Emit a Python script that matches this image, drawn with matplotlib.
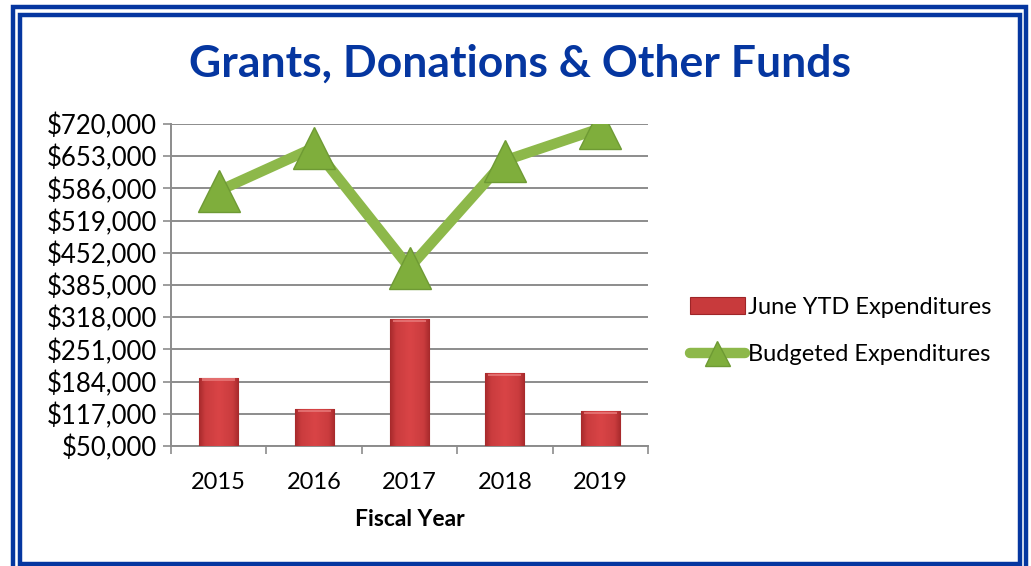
import numpy as np
import matplotlib
matplotlib.use("Agg")
import matplotlib.pyplot as plt
from matplotlib.patches import Rectangle
from matplotlib.colors import LinearSegmentedColormap
from matplotlib.ticker import FuncFormatter

years = ["2015", "2016", "2017", "2018", "2019"]
ytd_expenditures = [192000, 127000, 314000, 202000, 123000]
budgeted_expenditures = [581000, 671000, 421000, 644000, 711000]
y_ticks = [50000, 117000, 184000, 251000, 318000, 385000, 452000, 519000,
           586000, 653000, 720000]

BLUE = "#0536A0"
RED = "#C83A3C"
GREEN = "#8DB84A"
GRID = "#8C8C8C"
FONT = ["Lato", "DejaVu Sans"]

plt.rcParams["font.family"] = FONT

fig = plt.figure(figsize=(10.31, 5.66), dpi=100)
W, H = 1031, 566

# double frame around the chart
for x0, y0, x1, y1 in [(12.5, 7.5, 1026, 575), (20, 15, 1020, 564)]:
    fig.patches.append(Rectangle((x0 / W, 1 - y1 / H), (x1 - x0) / W, (y1 - y0) / H,
                                 transform=fig.transFigure, fill=False,
                                 edgecolor=BLUE, linewidth=3.2, zorder=10))

fig.text(520 / W, 1 - 64 / H, "Grants, Donations & Other Funds", ha="center",
         va="center", fontsize=32, fontweight="bold", color=BLUE)

ax = fig.add_axes([171 / W, 1 - 446 / H, (648 - 171) / W, (446 - 124) / H])
x = np.arange(len(years))
ax.set_xlim(-0.5, len(years) - 0.5)
ax.set_ylim(y_ticks[0], y_ticks[-1])

bars = ax.bar(x, ytd_expenditures, width=0.41, bottom=0,
              color=RED, edgecolor="#9E2528", linewidth=0.8, zorder=3,
              label="June YTD Expenditures")

# horizontal shading across each bar plus a light top bevel
bar_cmap = LinearSegmentedColormap.from_list("bar", ["#A82A2C", "#D94446"])
shade = np.interp(np.linspace(0, 1, 50), [0, 0.15, 0.5, 0.85, 1],
                  [0.0, 0.55, 0.8, 0.55, 0.0])[None, :]
for b in bars:
    bx, bw, bh = b.get_x(), b.get_width(), b.get_height()
    im = ax.imshow(shade, extent=[bx, bx + bw, y_ticks[0], bh], aspect="auto",
                   cmap=bar_cmap, zorder=3.5, vmin=0, vmax=0.8)
    im.set_clip_path(b)
    ax.add_patch(Rectangle((bx + bw * 0.08, bh - 6500), bw * 0.84, 5000,
                           facecolor="#E87A7A", edgecolor="none", alpha=0.8,
                           zorder=3.6))

line, = ax.plot(x, budgeted_expenditures, color=GREEN, linewidth=7.5,
                marker="^", markersize=30, markerfacecolor="#7FAE3C",
                markeredgecolor="#6E9A34", markeredgewidth=1,
                solid_capstyle="round", zorder=4,
                label="Budgeted Expenditures")

ax.set_yticks(y_ticks)
ax.yaxis.set_major_formatter(FuncFormatter(lambda v, p: f"${v:,.0f}"))
ax.set_xticks(x)
ax.set_xticklabels(years)
ax.set_xticks(np.arange(-0.5, len(years)), minor=True)
ax.tick_params(axis="x", which="major", length=0, labelsize=17, pad=19)
ax.tick_params(axis="x", which="minor", length=6, color=GRID, width=1.2)
ax.tick_params(axis="y", length=6, color=GRID, width=1.2, labelsize=18.5, pad=4)
ax.grid(axis="y", color=GRID, linewidth=1.4, zorder=0)
ax.set_axisbelow(True)
for s in ["top", "right"]:
    ax.spines[s].set_visible(False)
for s in ["left", "bottom"]:
    ax.spines[s].set_color(GRID)
    ax.spines[s].set_linewidth(1.4)

ax.set_xlabel("Fiscal Year", fontsize=16.5, fontweight="bold", labelpad=11)

fig.legend(handles=[bars, line], loc="center left",
           bbox_to_anchor=(669 / W, 1 - 331 / H), frameon=False,
           fontsize=17, handlelength=2.3, handletextpad=0.15,
           labelspacing=1.1, markerscale=0.6)

fig.savefig("out.png", dpi=100)
